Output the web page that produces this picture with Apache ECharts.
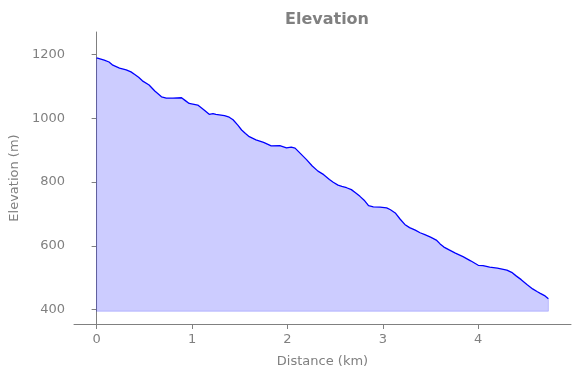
<!DOCTYPE html>
<html>
<head>
<meta charset="utf-8">
<script src="https://cdn.jsdelivr.net/npm/echarts@6/dist/echarts.min.js"></script>
<style>
  html, body { margin: 0; padding: 0; background: #fff; }
  #chart { width: 580px; height: 378px; }
</style>
</head>
<body>
<div id="chart"></div>
<script>
// distance along the route (km) and elevation (m)
const distance = [
  0, 0.08, 0.13, 0.17, 0.24, 0.31, 0.36, 0.40, 0.44, 0.48, 0.55, 0.61, 0.68, 0.73, 0.80,
  0.89, 0.93, 0.97, 1.06, 1.12, 1.18, 1.22, 1.25, 1.34, 1.39, 1.43, 1.48, 1.52, 1.56, 1.60,
  1.67, 1.75, 1.83, 1.92, 1.99, 2.04, 2.08, 2.14, 2.20, 2.26, 2.32, 2.38, 2.44, 2.48, 2.53,
  2.57, 2.62, 2.67, 2.72, 2.76, 2.81, 2.85, 2.90, 2.97, 3.04, 3.08, 3.13, 3.18, 3.23, 3.28,
  3.34, 3.39, 3.44, 3.50, 3.56, 3.60, 3.64, 3.69, 3.76, 3.84, 3.92, 4.00, 4.05, 4.12, 4.20,
  4.30, 4.35, 4.40, 4.45, 4.51, 4.57, 4.62, 4.65, 4.70, 4.735
]
const elevation = [
  1189, 1182, 1176, 1166, 1157, 1151, 1145, 1137, 1128, 1117, 1104, 1085, 1067, 1063, 1063,
  1064, 1055, 1046, 1041, 1027, 1012, 1014, 1012, 1008, 1003, 995, 978, 963, 952, 942,
  932, 924, 913, 914, 907, 909, 906, 888, 870, 850, 834, 823, 808, 799, 790,
  786, 782, 776, 765, 755, 741, 726, 722, 721, 719, 713, 703, 684, 667, 657,
  649, 641, 635, 627, 618, 606, 596, 588, 577, 566, 553, 539, 538, 533, 530,
  524, 517, 505, 494, 479, 465, 456, 451, 443, 434
]
const baseline = 395
const xTicks = [0, 1, 2, 3, 4]
const yTicks = [400, 600, 800, 1000, 1200]

const gray = '#808080'
const font = 'DejaVu Sans'

const profile = distance.map((d, i) => [d, elevation[i]])
const last = distance.length - 1
const outline = [
  [distance[0], elevation[0]],
  [distance[0], baseline],
  [distance[last], baseline],
  [distance[last], elevation[last]]
]

const chart = echarts.init(document.getElementById('chart'))

chart.setOption({
  animation: false,
  title: {
    text: 'Elevation',
    left: 322,
    textAlign: 'center',
    top: 7,
    textStyle: { color: gray, fontSize: 16, fontWeight: 'bold', fontFamily: font }
  },
  grid: { left: 74, right: 9, top: 32, bottom: 54, outerBoundsMode: 'none', containLabel: false },
  xAxis: {
    type: 'value',
    min: -0.237,
    max: 4.972,
    name: 'Distance (km)',
    nameLocation: 'middle',
    nameGap: 31,
    nameTextStyle: { color: gray, fontSize: 13, fontFamily: font },
    axisLine: { lineStyle: { color: gray, width: 1 } },
    axisTick: { show: true, length: 5, customValues: xTicks, lineStyle: { color: gray } },
    axisLabel: { customValues: xTicks, color: gray, fontSize: 13, fontFamily: font, margin: 9 },
    splitLine: { show: false }
  },
  yAxis: {
    type: 'value',
    min: 355,
    max: 1270,
    name: 'Elevation (m)',
    nameLocation: 'middle',
    nameGap: 49,
    nameTextStyle: { color: gray, fontSize: 13, fontFamily: font },
    axisLine: { show: true, lineStyle: { color: gray, width: 1 } },
    axisTick: { show: true, length: 5, customValues: yTicks, lineStyle: { color: gray } },
    axisLabel: {
      customValues: yTicks, color: gray, fontSize: 13, fontFamily: font, margin: 9,
      formatter: v => String(v)
    },
    splitLine: { show: false }
  },
  series: [
    {
      type: 'line',
      data: outline,
      symbol: 'none',
      silent: true,
      lineStyle: { color: 'rgba(0,0,255,0.2)', width: 1 },
      z: 1
    },
    {
      type: 'line',
      data: profile,
      symbol: 'none',
      lineStyle: { color: '#0000ff', width: 1.3 },
      areaStyle: { color: 'rgba(0,0,255,0.2)', opacity: 1, origin: baseline },
      z: 2
    }
  ]
})

window.addEventListener('resize', () => {
  chart.resize()
})
</script>
</body>
</html>
